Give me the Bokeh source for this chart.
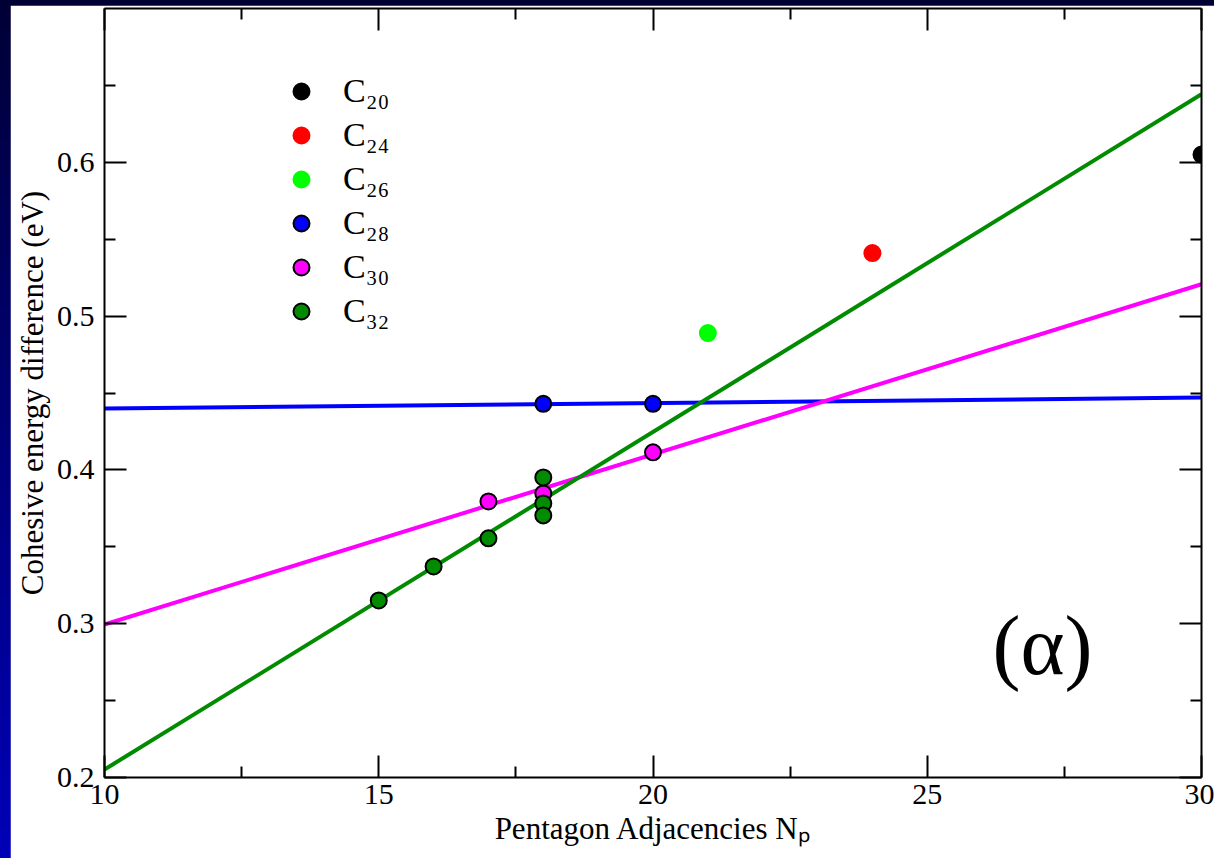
from bokeh.plotting import figure
from bokeh.layouts import column
from bokeh.models import Range1d, LinearAxis, FixedTicker, Label, Legend, LegendItem
from bokeh.embed import file_html
from bokeh.resources import INLINE

# ---- data ----
c20_x = [30]
c20_y = [0.605]
c24_x = [24]
c24_y = [0.541]
c26_x = [21]
c26_y = [0.489]
c28_x = [18, 20]
c28_y = [0.443, 0.443]
c30_x = [17, 18, 20]
c30_y = [0.3795, 0.3847, 0.4114]
c32_x = [15, 16, 17, 18, 18, 18]
c32_y = [0.3151, 0.3372, 0.3555, 0.3951, 0.3782, 0.3704]

fit_x = [10, 30]
fit28_y = [0.440, 0.447]
fit30_y = [0.2995, 0.5207]
fit32_y = [0.2052, 0.6442]

x_ticks = [10, 15, 20, 25, 30]
x_minor = [12.5, 17.5, 22.5, 27.5]
y_ticks = [0.2, 0.3, 0.4, 0.5, 0.6]
y_minor = [0.25, 0.35, 0.45, 0.55, 0.65]

legend_labels = ["C\u2082\u2080", "C\u2082\u2084", "C\u2082\u2086", "C\u2082\u2088", "C\u2083\u2080", "C\u2083\u2082"]
x_title = "Pentagon Adjacencies N\u209a"
y_title = "Cohesive energy difference (eV)"
panel_tag = "(\u03b1)"

FONT = "Liberation Serif"
GREEN4 = "#008b00"

p = figure(width=1204, height=853, x_range=Range1d(10, 30), y_range=Range1d(0.2, 0.7),
           output_backend="svg", toolbar_location=None,
           min_border_left=94, min_border_right=13, min_border_top=3, min_border_bottom=81,
           x_axis_type=None, y_axis_type=None)
p.margin = (5, 0, 0, 10)
p.xgrid.visible = False
p.ygrid.visible = False
p.outline_line_color = None
p.background_fill_color = "white"
p.border_fill_color = "white"


def style_axis(ax, ticks, minor, show_labels):
    ax.ticker = FixedTicker(ticks=ticks, minor_ticks=minor)
    ax.axis_line_width = 2
    ax.axis_line_color = "black"
    ax.major_tick_line_width = 2
    ax.minor_tick_line_width = 2
    ax.major_tick_in = 22
    ax.major_tick_out = 0
    ax.minor_tick_in = 11
    ax.minor_tick_out = 0
    ax.major_label_text_font = FONT
    ax.major_label_text_font_size = "30px"
    if show_labels:
        ax.major_label_text_color = "black"
        ax.major_label_standoff = 8
    else:
        ax.major_label_text_color = None
        ax.major_label_text_font_size = "1px"
        ax.major_label_standoff = 0


xb = LinearAxis(axis_label=x_title)
style_axis(xb, x_ticks, x_minor, True)
xb.major_label_standoff = 7
xb.axis_label_text_font = FONT
xb.axis_label_text_font_size = "31px"
xb.axis_label_text_font_style = "normal"
xb.axis_label_text_color = "black"
xb.axis_label_standoff = 4
p.add_layout(xb, "below")

yl = LinearAxis(axis_label=y_title)
style_axis(yl, y_ticks, y_minor, True)
yl.major_label_standoff = 10
yl.axis_label_text_font = FONT
yl.axis_label_text_font_size = "31px"
yl.axis_label_text_font_style = "normal"
yl.axis_label_text_color = "black"
yl.axis_label_standoff = 4
p.add_layout(yl, "left")

xt = LinearAxis()
style_axis(xt, x_ticks, x_minor, False)
p.add_layout(xt, "above")
yr = LinearAxis()
style_axis(yr, y_ticks, y_minor, False)
p.add_layout(yr, "right")

# fitted lines
p.line(fit_x, fit28_y, line_color="blue", line_width=4)
p.line(fit_x, fit30_y, line_color="magenta", line_width=4)
p.line(fit_x, fit32_y, line_color=GREEN4, line_width=4)

# points
r20 = p.scatter(c20_x, c20_y, size=16, fill_color="black", line_color="black", line_width=2)
r24 = p.scatter(c24_x, c24_y, size=16, fill_color="red", line_color="red", line_width=2)
r26 = p.scatter(c26_x, c26_y, size=16, fill_color="#00ff00", line_color="#00ff00", line_width=2)
r28 = p.scatter(c28_x, c28_y, size=16, fill_color="blue", line_color="black", line_width=2)
r30 = p.scatter(c30_x, c30_y, size=16, fill_color="magenta", line_color="black", line_width=2)
r32 = p.scatter(c32_x, c32_y, size=16, fill_color=GREEN4, line_color="black", line_width=2)

renderers = [r20, r24, r26, r28, r30, r32]
legend = Legend(items=[LegendItem(label=lab, renderers=[r]) for lab, r in zip(legend_labels, renderers)],
                location=(177, 446), orientation="vertical",
                glyph_width=40, glyph_height=40, spacing=4, padding=0, margin=0,
                label_standoff=22, label_text_font=FONT, label_text_font_size="34px",
                label_text_color="black",
                border_line_color=None, background_fill_alpha=0)
p.add_layout(legend)

p.add_layout(Label(x=27.1, y=0.286, text=panel_tag, text_font=FONT, text_font_size="84px",
                   text_align="center", text_baseline="middle", text_color="black"))

page = column(p, styles={"background": "linear-gradient(to bottom, #000035 0%, #00006a 40%, #0000b8 100%)"})

open("out.html", "w").write(file_html(page, INLINE))
